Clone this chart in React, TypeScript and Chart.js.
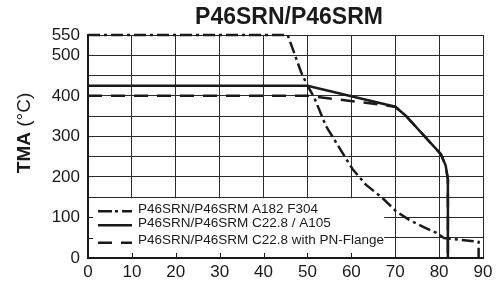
import React, { useEffect, useRef } from "react";
import { Chart, registerables } from "chart.js";

Chart.register(...registerables);

const chartTitle = "P46SRN/P46SRM";
const yTitleBold = "TMA";
const yTitleRest = " (°C)";

const seriesLabels = [
  "P46SRN/P46SRM A182 F304",
  "P46SRN/P46SRM C22.8 / A105",
  "P46SRN/P46SRM C22.8 with PN-Flange",
];

const xA182 = [0, 45.5, 47, 48.5, 50, 51.5, 54.2, 57.7, 60.3, 63.3, 67.1, 70.2, 73.2, 76.5, 79.6, 81.1, 89, 89];
const yA182 = [550, 550, 505, 460, 425, 397, 326, 264, 219, 181, 148, 115, 94, 76, 61, 49, 40, 0];

const xA105 = [0, 50, 70, 72.4, 80.4, 81.5, 82, 82];
const yA105 = [425, 425, 373, 351, 256, 228, 194, 0];

const xPN = [0, 50, 67, 70, 72.4, 80.4, 81.5, 82, 82];
const yPN = [400, 400, 378, 373, 351, 256, 228, 194, 0];

const xMin = 0;
const xMax = 90;
const xStep = 10;
const yMin = 0;
const yMax = 550;
const yStep = 50;

const legendTopValue = 150;
const legendRightValue = 67.5;

const FONT = "'Liberation Sans', Arial, Helvetica, sans-serif";
const INK = "#1a1a1a";
const GRID = "#2a2a2a";

const toPoints = (xs: number[], ys: number[]) => xs.map((x, i) => ({ x, y: ys[i] }));

const dashDot = [12, 4, 3, 4];
const dashed = [14, 9];

export default function App() {
  const ref = useRef<HTMLCanvasElement | null>(null);

  useEffect(() => {
    document.body.style.margin = "0";
    const canvas = ref.current;
    if (!canvas) return;

    const legendPlugin = {
      id: "insideLegend",
      beforeDatasetsDraw(chart: any) {
        const { ctx, scales } = chart;
        const xs = scales.x;
        const ys = scales.y;
        const left = xs.getPixelForValue(xMin);
        const right = xs.getPixelForValue(legendRightValue);
        const top = ys.getPixelForValue(legendTopValue);
        const bottom = ys.getPixelForValue(yMin);
        ctx.save();
        ctx.fillStyle = "#ffffff";
        ctx.fillRect(left + 1, top + 1, right - left - 1, bottom - top - 2);
        ctx.strokeStyle = INK;
        ctx.lineWidth = 1;
        for (let v = xMin + xStep; v < legendRightValue; v += xStep) {
          const px = Math.round(xs.getPixelForValue(v)) + 0.5;
          ctx.beginPath();
          ctx.moveTo(px, bottom);
          ctx.lineTo(px, bottom - 5);
          ctx.stroke();
        }
        for (let v = yMin + yStep; v < legendTopValue; v += yStep) {
          const py = Math.round(ys.getPixelForValue(v)) + 0.5;
          ctx.beginPath();
          ctx.moveTo(left, py);
          ctx.lineTo(left + 5, py);
          ctx.stroke();
        }
        const rowsY = [top + 14, top + 28, top + 45.5];
        const dashes = [[14, 3, 3, 4], [], dashed];
        const sx0 = left + 10;
        const sx1 = left + 44;
        ctx.font = `13.5px ${FONT}`;
        ctx.textBaseline = "middle";
        ctx.textAlign = "left";
        seriesLabels.forEach((label, i) => {
          ctx.save();
          ctx.strokeStyle = INK;
          ctx.lineWidth = 2.5;
          ctx.setLineDash(dashes[i]);
          ctx.beginPath();
          ctx.moveTo(sx0, rowsY[i]);
          ctx.lineTo(sx1, rowsY[i]);
          ctx.stroke();
          ctx.restore();
          ctx.fillStyle = INK;
          ctx.fillText(label, left + 50, rowsY[i] - 2);
        });
        ctx.restore();
      },
      afterDraw(chart: any) {
        const { ctx } = chart;
        ctx.save();
        ctx.fillStyle = INK;
        ctx.textBaseline = "middle";
        ctx.textAlign = "center";
        ctx.font = `bold 23px ${FONT}`;
        ctx.fillText(chartTitle, 289, 18);
        ctx.translate(25, 133);
        ctx.rotate(-Math.PI / 2);
        ctx.font = `bold 19px ${FONT}`;
        const w1 = ctx.measureText(yTitleBold).width;
        ctx.font = `19px ${FONT}`;
        const w2 = ctx.measureText(yTitleRest).width;
        const start = -(w1 + w2) / 2;
        ctx.textAlign = "left";
        ctx.font = `bold 19px ${FONT}`;
        ctx.fillText(yTitleBold, start, 0);
        ctx.font = `19px ${FONT}`;
        ctx.fillText(yTitleRest, start + w1, 0);
        ctx.restore();
      },
    };

    const chart = new Chart(canvas, {
      type: "line",
      data: {
        datasets: [
          {
            label: seriesLabels[0],
            data: toPoints(xA182, yA182),
            borderColor: INK,
            borderWidth: 2.5,
            borderDash: dashDot,
            pointRadius: 0,
            fill: false,
            tension: 0,
            clip: false,
          } as any,
          {
            label: seriesLabels[1],
            data: toPoints(xA105, yA105),
            borderColor: INK,
            borderWidth: 2.5,
            pointRadius: 0,
            fill: false,
            tension: 0,
            clip: false,
          } as any,
          {
            label: seriesLabels[2],
            data: toPoints(xPN, yPN),
            borderColor: INK,
            borderWidth: 2.5,
            borderDash: dashed,
            pointRadius: 0,
            fill: false,
            tension: 0,
            clip: false,
          } as any,
        ],
      },
      options: {
        animation: false,
        responsive: false,
        layout: { padding: { top: 35, right: 17, left: 0, bottom: 0 } },
        plugins: {
          legend: { display: false },
          title: { display: false },
          tooltip: { enabled: false },
        },
        scales: {
          x: {
            type: "linear",
            min: xMin,
            max: xMax,
            ticks: {
              stepSize: xStep,
              color: INK,
              font: { family: FONT, size: 17 },
              padding: 4,
              maxRotation: 0,
              autoSkip: false,
            },
            grid: { color: GRID, lineWidth: 1, drawTicks: false },
            border: { display: true, color: INK, width: 2 },
            afterFit: (s: any) => {
              s.height = 25;
            },
          },
          y: {
            type: "linear",
            min: yMin,
            max: yMax,
            ticks: {
              stepSize: yStep,
              color: INK,
              font: { family: FONT, size: 17 },
              padding: 8,
              autoSkip: false,
              callback: (v: any) => (Number(v) % 100 === 0 || Number(v) === yMax ? String(v) : ""),
            },
            grid: { color: GRID, lineWidth: 1, drawTicks: false },
            border: { display: true, color: INK, width: 2 },
            afterFit: (s: any) => {
              s.width = 88;
            },
          },
        },
      },
      plugins: [legendPlugin],
    });

    return () => chart.destroy();
  }, []);

  return (
    <div style={{ width: 500, height: 283 }}>
      <canvas ref={ref} width={500} height={283} />
    </div>
  );
}
